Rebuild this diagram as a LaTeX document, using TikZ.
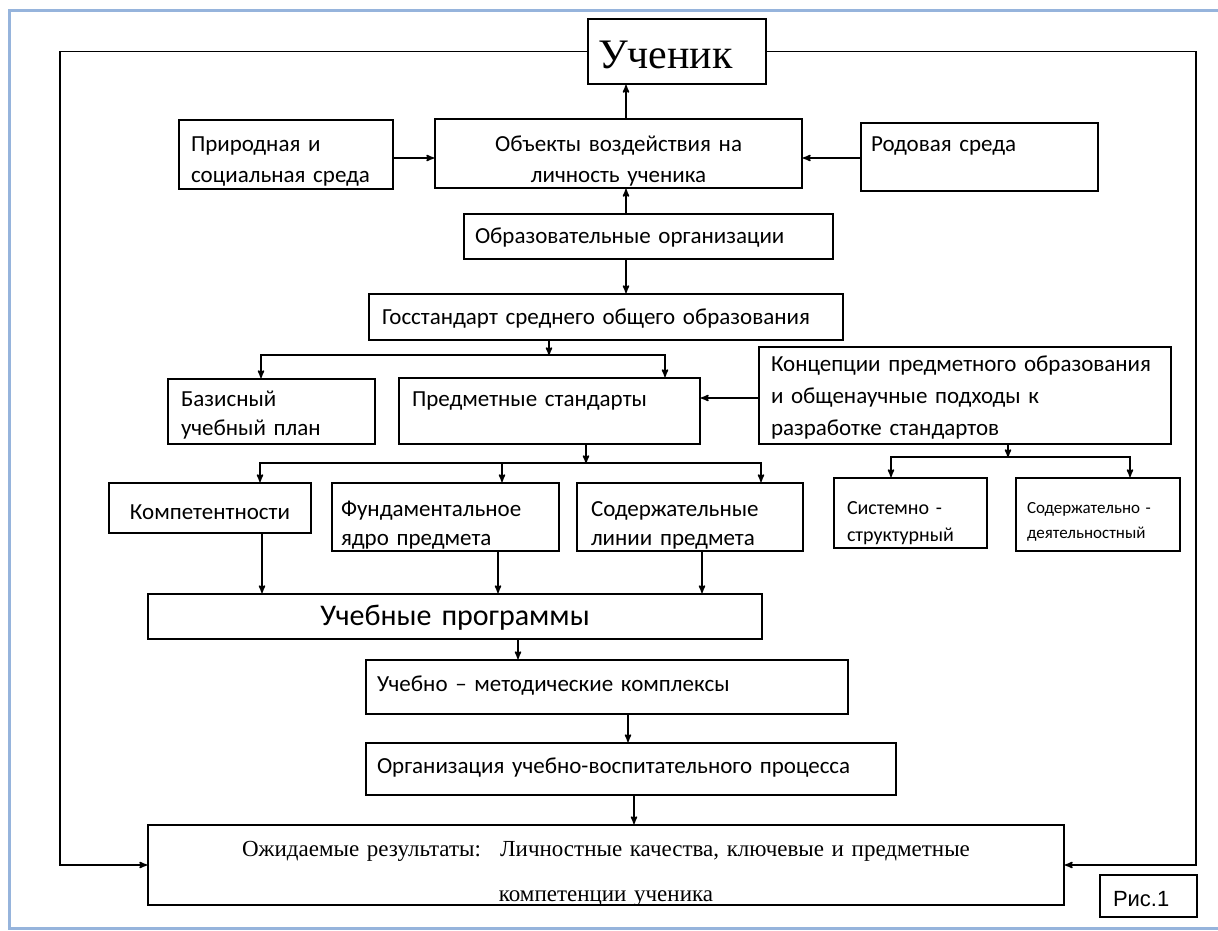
\documentclass[tikz,border=0pt]{standalone}
\usepackage{fontspec}
\setmainfont{Carlito}
\newfontfamily\timesfont{Liberation Serif}
\newfontfamily\arialfont{Liberation Sans}
\usetikzlibrary{arrows}

\begin{document}
\begin{tikzpicture}[x=1pt,y=-1pt,>=stealth',line width=1.5pt,
                    every node/.style={font=\fontsize{23}{32}\selectfont}]
  \tikzstyle{blk}=[draw,line width=2pt,anchor=north west,inner ysep=0pt,
                   inner xsep=11pt,align=left]
  \tikzstyle{link}=[->,line width=1.6pt]
  \useasboundingbox (0,0) rectangle (1218,930);
  \draw[line width=3pt,color={rgb,255:red,150;green,180;blue,220}]
    (1218,10) -- (9,10) -- (9,928) -- (1218,928);

  \node[blk,inner xsep=10pt,text width=158pt,text height=49pt,text depth=16pt,
        font=\timesfont\fontsize{42}{48}\selectfont]
        (uch) at (587,18) {Ученик};
  \node[blk,inner xsep=12pt,text width=190pt,text height=31pt,text depth=38pt,
        font=\fontsize{23}{31}\selectfont]
        (prirod) at (178,119) {Природная и\\социальная среда};
  \node[blk,inner xsep=10pt,text width=347pt,text height=32pt,text depth=37pt,
        align=center,font=\fontsize{23}{31}\selectfont]
        (obj) at (434,118) {Объекты воздействия на\\личность ученика};
  \node[blk,inner xsep=10pt,text width=217pt,text height=28pt,text depth=40pt]
        (rodov) at (860,122) {Родовая среда};
  \node[blk,text width=347pt,text height=29pt,text depth=16pt]
        (obrorg) at (463,213) {Образовательные организации};
  \node[blk,inner xsep=13pt,text width=448pt,text height=30pt,text depth=16pt]
        (gosst) at (368,293) {Госстандарт среднего общего образования};
  \node[blk,inner xsep=13pt,text width=181pt,text height=27pt,text depth=38pt,
        font=\fontsize{23}{29}\selectfont]
        (bazis) at (167,378) {Базисный\\учебный план};
  \node[blk,inner xsep=13pt,text width=275pt,text height=28pt,text depth=38pt]
        (predm) at (398,377) {Предметные стандарты};
  \node[blk,inner xsep=12pt,text width=388pt,text height=24pt,text depth=73pt]
        (konc) at (758,346) {Концепции предметного образования\\и общенаучные подходы к\\разработке стандартов};

  \node[blk,inner xsep=8pt,text width=186pt,text height=36pt,text depth=14pt,
        align=center]
        (komp) at (108,482) {Компетентности};
  \node[blk,inner xsep=9pt,text width=209pt,text height=33pt,text depth=35pt,
        font=\fontsize{23}{29}\selectfont]
        (fund) at (331,482) {Фундаментальное\\ядро предмета};
  \node[blk,inner xsep=14pt,text width=198pt,text height=33pt,text depth=35pt,
        font=\fontsize{23}{29}\selectfont]
        (sod) at (576,482) {Содержательные\\линии предмета};
  \node[blk,inner xsep=13pt,text width=127pt,text height=36pt,text depth=34pt,
        font=\fontsize{20}{27}\selectfont]
        (sist) at (833,477) {Системно -\\структурный};
  \node[blk,inner xsep=11pt,text width=142pt,text height=35pt,text depth=38pt,
        font=\fontsize{17}{25}\selectfont]
        (sodd) at (1015,477) {Содержательно -\\деятельностный};

  \node[blk,inner xsep=10pt,text width=594pt,text height=31pt,text depth=14pt,
        align=center,font=\fontsize{30}{32}\selectfont]
        (uchprog) at (147,593) {Учебные программы};
  \node[blk,text width=460pt,text height=31pt,text depth=23pt]
        (umk) at (365,659) {Учебно – методические комплексы};
  \node[blk,text width=508pt,text height=30pt,text depth=22pt]
        (org) at (365,742) {Организация учебно-воспитательного процесса};
  \node[blk,inner xsep=10pt,text width=896pt,text height=31pt,text depth=49pt,
        align=center,font=\timesfont\fontsize{23}{45}\selectfont]
        (ozh) at (147,824) {Ожидаемые результаты:~ Личностные качества, ключевые и предметные\\компетенции ученика};
  \node[blk,inner xsep=13pt,text width=71pt,text height=31pt,text depth=11pt,
        font=\arialfont\fontsize{22}{26}\selectfont]
        (ris) at (1099,874) {Рис.1};

  % upper part
  \draw[link] ([xshift=7.5pt]obj.north) -- ([xshift=7.5pt]obj.north |- uch.south);
  \draw[link] ([yshift=-3.5pt]prirod.east) -- ([yshift=-3.5pt]prirod.east -| obj.west);
  \draw[link] ([yshift=-1pt]rodov.west) -- ([yshift=-1pt]rodov.west -| obj.east);
  \draw[link] ([xshift=-22.5pt]obrorg.north) -- ([xshift=-22.5pt]obrorg.north |- obj.south);
  \draw[link] ([xshift=-22.5pt]obrorg.south) -- ([xshift=-22.5pt]obrorg.south |- gosst.north);

  % standards
  \coordinate (j1) at (549,355);
  \draw[link] (gosst.south -| j1) -- (j1);
  \draw[link] (j1) -| ([xshift=-10.5pt]bazis.north);
  \draw[link] (j1) -| ([xshift=115.5pt]predm.north);
  \draw[link] ([yshift=-2.5pt]konc.west) -- ([yshift=-2.5pt]konc.west -| predm.east);

  \coordinate (j2) at (586,463);
  \draw[link] (predm.south -| j2) -- (j2);
  \draw[link] (j2) -| ([xshift=50pt]komp.north);
  \draw[link] (j2) -| ([xshift=56.5pt]fund.north);
  \draw[link] (j2) -| ([xshift=71pt]sod.north);

  \coordinate (j3) at (1008,457);
  \draw[link] (konc.south -| j3) -- (j3);
  \draw[link] (j3) -| ([xshift=-19.5pt]sist.north);
  \draw[link] (j3) -| ([xshift=32pt]sodd.north);

  % programmes and results
  \draw[link] ([xshift=52pt]komp.south) -- ([xshift=52pt]komp.south |- uchprog.north);
  \draw[link] ([xshift=52.5pt]fund.south) -- ([xshift=52.5pt]fund.south |- uchprog.north);
  \draw[link] ([xshift=12pt]sod.south) -- ([xshift=12pt]sod.south |- uchprog.north);
  \draw[link] ([xshift=63pt]uchprog.south) -- ([xshift=63pt]uchprog.south |- umk.north);
  \draw[link] ([xshift=21pt]umk.south) -- ([xshift=21pt]umk.south |- org.north);
  \draw[link] ([xshift=3pt]org.south) -- ([xshift=3pt]org.south |- ozh.north);

  % feedback
  \coordinate (fl) at (60,50);
  \coordinate (fr) at (1196,52);
  \draw[link] (uch.west) -- (uch.west -| fl) |- (ozh.west);
  \draw[link] (uch.east) -- (uch.east -| fr) |- (ozh.east);
\end{tikzpicture}
\end{document}
